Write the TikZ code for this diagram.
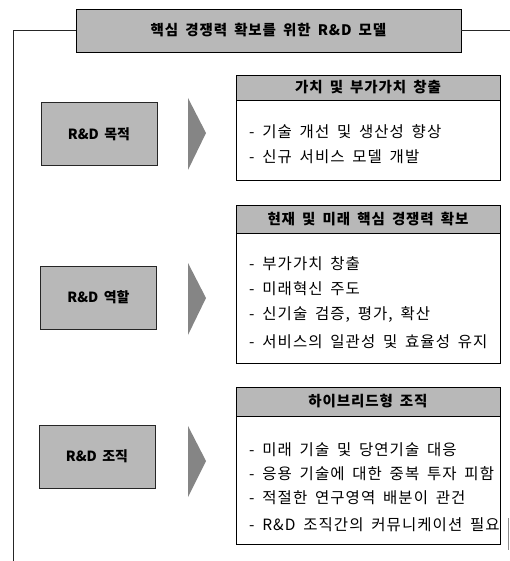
\documentclass[tikz,border=0pt]{standalone}
\usepackage{fontspec}
\setmainfont{Noto Sans CJK KR}[WordSpace=1.7]
\newfontfamily\itemfont{Noto Sans CJK KR}[WordSpace=1.7, LetterSpace=7]
\newfontfamily\titlefont{Noto Sans CJK KR}[WordSpace=1.7, LetterSpace=6]
\tikzset{
  boxfill/.style={fill=black!28},
  titlebox/.style={draw=black, line width=0.9pt, boxfill, minimum width=385, minimum height=43, inner sep=0pt, font=\titlefont\bfseries\fontsize{14.5}{16}\selectfont},
  leftbox/.style={draw=black!85, line width=1pt, boxfill, minimum width=116, minimum height=63, inner sep=0pt, font=\bfseries\fontsize{14}{16}\selectfont},
  bodybox/.style={draw=black, line width=0.8pt, fill=white, minimum width=264, inner sep=0pt},
  headbox/.style={draw=black, line width=0.8pt, boxfill, minimum width=264, inner sep=0pt, anchor=north, font=\titlefont\bfseries\fontsize{14.5}{16}\selectfont},
  item/.style={anchor=west, inner sep=0pt, font=\itemfont\fontsize{15.5}{17}\selectfont},
  chevron/.style={fill=black!48, draw=none},
  frame/.style={draw=black!85, line width=0.8pt},
}
\begin{document}
\begin{tikzpicture}[x=1pt,y=-1pt]
\useasboundingbox (0,0) rectangle (510,561);

% title and frame
\node[titlebox] (title) at (268.5,30.5) {핵심 경쟁력 확보를 위한 R\&D 모델};
\coordinate (fl) at (13,30.5);
\coordinate (fb) at (13,561);
\coordinate (fr) at (510,30.5);
\draw[frame] (title.west) -- (fl) -- (fb);
\draw[frame] (title.east) -- (fr);
\coordinate (s1) at (508,518);
\coordinate (s2) at (508,550);
\draw[black!45, line width=0.6pt] (s1) -- (s2);

% left boxes
\node[leftbox] (b1) at (99,134) {R\&D 목적};
\node[leftbox] (b2) at (98.5,297.5) {R\&D 역할};
\node[leftbox] (b3) at (97,456.5) {R\&D 조직};

% chevrons
\fill[chevron] (188,98) -- (206,133) -- (188,170) -- cycle;
\fill[chevron] (188,263) -- (206,298) -- (188,335) -- cycle;
\fill[chevron] (188,426) -- (206,461) -- (188,497) -- cycle;

% right box 1
\node[bodybox, minimum height=105] (r1) at (368,127.5) {};
\node[headbox, minimum height=25] (h1) at (r1.north) {가치 및 부가가치 창출};
\node[item] (i11) at (249,132) {- 기술 개선 및 생산성 향상};
\node[item] (i12) at (249,157) {- 신규 서비스 모델 개발};

% right box 2
\node[bodybox, minimum height=158] (r2) at (368,284) {};
\node[headbox, minimum height=28] (h2) at (r2.north) {현재 및 미래 핵심 경쟁력 확보};
\node[item] (i21) at (249,264) {- 부가가치 창출};
\node[item] (i22) at (249,289) {- 미래혁신 주도};
\node[item] (i23) at (249,315) {- 신기술 검증, 평가, 확산};
\node[item] (i24) at (249,342) {- 서비스의 일관성 및 효율성 유지};

% right box 3
\node[bodybox, minimum height=157] (r3) at (368,465.5) {};
\node[headbox, minimum height=29] (h3) at (r3.north) {하이브리드형 조직};
\node[item] (i31) at (249,450) {- 미래 기술 및 당연기술 대응};
\node[item] (i32) at (249,474) {- 응용 기술에 대한 중복 투자 피함};
\node[item] (i33) at (249,498) {- 적절한 연구영역 배분이 관건};
\node[item] (i34) at (249,525) {- R\&D 조직간의 커뮤니케이션 필요};
\end{tikzpicture}
\end{document}
